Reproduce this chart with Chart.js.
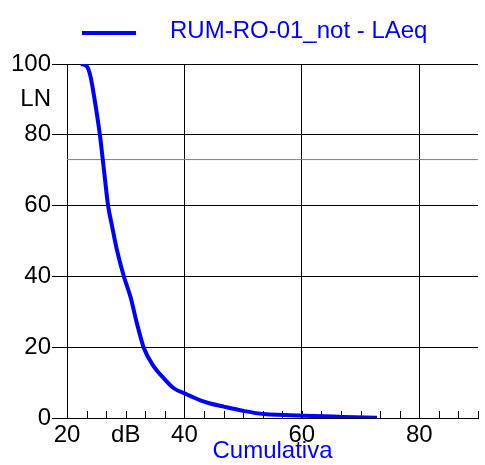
<!DOCTYPE html>
<html>
<head>
<meta charset="utf-8">
<script src="https://cdn.jsdelivr.net/npm/chart.js@4.4.1/dist/chart.umd.min.js"></script>
<style>
    html, body { margin: 0; padding: 0; background: #fff; }
    #chart { display: block; }
</style>
</head>
<body>
<canvas id="chart" width="485" height="465"></canvas>
<script>
// Data
const seriesLabel = "RUM-RO-01_not - LAeq";
const levelDb = [22.4, 23.4, 24.0, 24.6, 25.6, 26.3, 27.0, 27.7, 28.5, 29.7, 30.8, 31.9, 33.1, 34.8, 36.5, 38.2, 40.2, 42.7, 44.4, 46.7, 50.1, 53.5, 56.9, 60.3, 63.7, 67.1, 72.8];
const lnPercent = [100, 99.3, 96.5, 91, 80, 70, 60, 54, 47.5, 39.9, 34.3, 26.8, 19.7, 14.5, 11.2, 8.4, 6.8, 5.0, 4.1, 3.2, 2.0, 1.1, 0.85, 0.65, 0.5, 0.3, 0.1];
const refDb = [20, 90];
const refLn = [73, 73];
const xTickLabels = {20: "20", 30: "dB", 40: "40", 60: "60", 80: "80"};
const xMajor = [40, 60, 80];
const yTicks = [0, 20, 40, 60, 80, 90, 100];
const yTickLabels = {0: "0", 20: "20", 40: "40", 60: "60", 80: "80", 90: "LN", 100: "100"};
const axisTitle = "Cumulativa";

// Style
const blue = "#0000ff";
const fontFamily = "'Liberation Sans', Arial, Helvetica, sans-serif";
Chart.defaults.font.family = fontFamily;
Chart.defaults.font.size = 24;
Chart.defaults.color = "#000";

// Element
let chartElement = document.querySelector("#chart");

// Plugin
const minorTicks = {
    id: "minorTicks",
    beforeDatasetsDraw(chart) {
        let ctx = chart.ctx;
        let x = chart.scales.x;
        ctx.save();
        ctx.strokeStyle = "#000";
        ctx.lineWidth = 1;
        x.ticks.forEach(t => {
            let px = Math.round(x.getPixelForValue(t.value)) + 0.5;
            ctx.beginPath();
            ctx.moveTo(px, x.top);
            ctx.lineTo(px, x.top - 7);
            ctx.stroke();
        });
        ctx.restore();
    }
};

const lineLegend = {
    id: "lineLegend",
    afterDraw(chart) {
        let ctx = chart.ctx;
        let ds = chart.data.datasets[0];
        ctx.save();
        ctx.strokeStyle = ds.borderColor;
        ctx.lineWidth = 4;
        ctx.beginPath();
        ctx.moveTo(82, 33);
        ctx.lineTo(136, 33);
        ctx.stroke();
        ctx.fillStyle = ds.borderColor;
        ctx.font = "24px " + fontFamily;
        ctx.textBaseline = "middle";
        ctx.fillText(ds.label, 170, 31);
        ctx.restore();
    }
};

// Chart
new Chart(chartElement, {
    type: "line",
    data: {
        datasets: [
            {
                label: seriesLabel,
                data: levelDb.map((v, i) => ({x: v, y: lnPercent[i]})),
                borderColor: blue,
                borderWidth: 4,
                pointRadius: 0,
                cubicInterpolationMode: "monotone"
            },
            {
                label: "ref",
                data: refDb.map((v, i) => ({x: v, y: refLn[i]})),
                borderColor: "#808080",
                borderWidth: 1,
                pointRadius: 0
            }
        ]
    },
    options: {
        responsive: false,
        animation: false,
        layout: {
            padding: {top: 64, right: 7, bottom: 0, left: 0}
        },
        plugins: {
            legend: {display: false},
            tooltip: {enabled: false}
        },
        scales: {
            x: {
                type: "linear",
                min: 20,
                max: 90,
                afterBuildTicks: (scale) => {
                    let ticks = [];
                    for (let i = 0; i <= 21; i++) {
                        ticks.push({value: 20 + (i * 10) / 3});
                    }
                    scale.ticks = ticks;
                },
                afterFit: (scale) => {
                    scale.height = 47;
                },
                ticks: {
                    autoSkip: false,
                    maxRotation: 0,
                    padding: 3,
                    callback: (value) => {
                        let r = Math.round(value);
                        if (Math.abs(value - r) > 0.01) return "";
                        return xTickLabels[r] || "";
                    }
                },
                grid: {
                    drawTicks: false,
                    lineWidth: 1,
                    color: (ctx) => ctx.tick && xMajor.includes(ctx.tick.value) ? "#000" : "rgba(0,0,0,0)"
                },
                border: {color: "#000", width: 1},
                title: {
                    display: true,
                    text: axisTitle,
                    color: blue,
                    font: {size: 24},
                    padding: {top: 0, bottom: -1}
                }
            },
            y: {
                type: "linear",
                min: 0,
                max: 100,
                afterBuildTicks: (scale) => {
                    scale.ticks = yTicks.map(v => ({value: v}));
                },
                afterFit: (scale) => {
                    scale.width = 67;
                },
                ticks: {
                    autoSkip: false,
                    padding: 1,
                    callback: (value) => yTickLabels[value] || ""
                },
                grid: {
                    drawTicks: true,
                    tickLength: 15,
                    lineWidth: 1,
                    color: (ctx) => ctx.tick && (ctx.tick.value === 90 || ctx.tick.value === 0) ? "rgba(0,0,0,0)" : "#000",
                    tickColor: (ctx) => ctx.tick && ctx.tick.value === 90 ? "rgba(0,0,0,0)" : "#000"
                },
                border: {color: "#000", width: 1}
            }
        }
    },
    plugins: [minorTicks, lineLegend]
});
</script>
</body>
</html>
